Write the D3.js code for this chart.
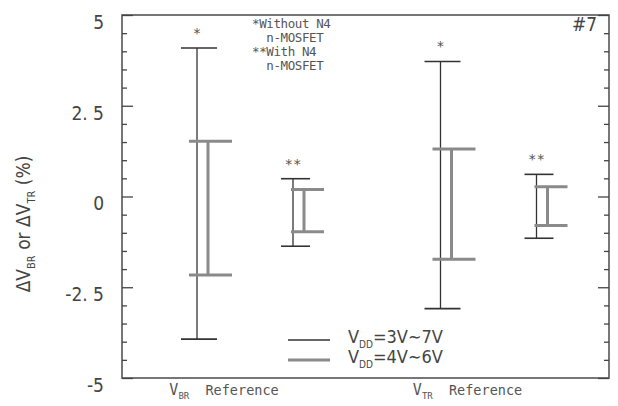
<!DOCTYPE html>
<html>
<head>
<meta charset="utf-8">
<script src="https://cdn.jsdelivr.net/npm/d3@7"></script>
<style>
  body { margin: 0; background: #fff; }
  svg { display: block; }
  .mono { font-family: "DejaVu Sans Mono", monospace; fill: #555; }
  .narrow { font-family: "DejaVu Sans Condensed", "Liberation Sans Narrow", "DejaVu Sans", sans-serif; fill: #444; }
</style>
</head>
<body>
<svg></svg>
<script>
/* data: order is V_BR *, V_BR **, V_TR *, V_TR ** */
var groups = ["BR", "TR"];
var markers = ["*", "**"];
var wideHi = [4.09, 0.49, 3.72, 0.61];     // VDD = 3V ~ 7V
var wideLo = [-3.93, -1.37, -3.09, -1.15];
var narrowHi = [1.52, 0.19, 1.31, 0.27];   // VDD = 4V ~ 6V
var narrowLo = [-2.16, -0.97, -1.73, -0.80];
var majorTicks = [5, 2.5, 0, -2.5, -5];
var tickLabels = ["5", "2. 5", "0", "-2. 5", "-5"];
var legendNotes = ["*Without N4", "  n-MOSFET", "**With N4", "  n-MOSFET"];

/* svg setting */
var svgWidth = 618;
var svgHeight = 406;
var margin = {top: 15, right: 9, bottom: 28, left: 122};
var width = svgWidth - margin.left - margin.right;
var height = svgHeight - margin.top - margin.bottom;

var svg = d3.select("svg")
    .attr("width", svgWidth)
    .attr("height", svgHeight);

var scale = {};
scale.y = d3.scaleLinear().domain([-5, 5]).range([height, 0]);
scale.x0 = d3.scaleBand().domain(groups).range([0, width]);
scale.x1 = d3.scalePoint().domain(markers).range([80, 176]);

var g = svg.append("g").attr("transform", translate(margin.left, margin.top));

/* frame */
g.append("rect")
    .attr("width", width).attr("height", height)
    .attr("fill", "none").attr("stroke", "#555").attr("stroke-width", 1.6);

/* axes: ticks point inward */
var minorTicks = d3.range(-5, 5.01, 0.5).filter(function(v){ return Math.abs(v % 2.5) > 1e-6; });

function drawAxis(axisFn, x, labels){
  var major = g.append("g").attr("transform", translate(x, 0))
      .call(axisFn(scale.y).tickValues(majorTicks).tickSize(-11).tickPadding(18)
        .tickFormat(function(d, i){ return labels ? tickLabels[i] : ""; }));
  var minor = g.append("g").attr("transform", translate(x, 0))
      .call(axisFn(scale.y).tickValues(minorTicks).tickSize(-5).tickFormat(""));
  [major, minor].forEach(function(a){
    a.select(".domain").remove();
    a.selectAll("line").attr("stroke", "#444").attr("stroke-width", 1.3);
  });
  major.selectAll("text")
      .attr("class", "narrow")
      .attr("font-size", 19)
      .attr("dy", "0.7em")
      .style("fill", "#444");
}
drawAxis(d3.axisLeft, 0, true);
drawAxis(d3.axisRight, width, false);

/* error bars */
var bars = [];
groups.forEach(function(grp, gi){
  markers.forEach(function(m, mi){
    var i = gi * 2 + mi;
    var cx = scale.x0(grp) + scale.x1(m);
    bars.push({kind: "wide", m: m, x: cx - 5, hi: wideHi[i], lo: wideLo[i]});
    bars.push({kind: "narrow", m: m, x: cx + 6, hi: narrowHi[i], lo: narrowLo[i]});
  });
});

var caps = {
  wide: {"*": [-16, 20], "**": [-12, 17]},
  narrow: {"*": [-19, 24], "**": [-13, 20]}
};
var styles = {
  wide: {stroke: "#333", w: 1.3},
  narrow: {stroke: "#8a8a8a", w: 3}
};

var bar = g.selectAll(".bar").data(bars).enter().append("g").attr("class", "bar");
bar.append("line")
    .attr("x1", function(d){ return d.x; }).attr("x2", function(d){ return d.x; })
    .attr("y1", function(d){ return scale.y(d.hi); })
    .attr("y2", function(d){ return scale.y(d.lo); })
    .attr("stroke", function(d){ return styles[d.kind].stroke; })
    .attr("stroke-width", function(d){ return styles[d.kind].w; });
["hi", "lo"].forEach(function(k){
  bar.append("line")
      .attr("x1", function(d){ return d.x + caps[d.kind][d.m][0]; })
      .attr("x2", function(d){ return d.x + caps[d.kind][d.m][1]; })
      .attr("y1", function(d){ return scale.y(d[k]); })
      .attr("y2", function(d){ return scale.y(d[k]); })
      .attr("stroke", function(d){ return styles[d.kind].stroke; })
      .attr("stroke-width", function(d){ return d.kind === "wide" ? 1.6 : 3; });
});

/* star marks above the wide bars */
g.selectAll(".star").data(bars.filter(function(d){ return d.kind === "wide"; }))
  .enter().append("text")
    .attr("class", "mono")
    .attr("x", function(d){ return d.x; })
    .attr("y", function(d){ return scale.y(d.hi) - 10; })
    .attr("text-anchor", "middle")
    .attr("font-size", 14)
    .text(function(d){ return d.m; });

/* note legend */
g.selectAll(".note").data(legendNotes).enter().append("text")
    .attr("class", "mono")
    .attr("x", 130)
    .attr("y", function(d, i){ return 13 + i * 14; })
    .attr("font-size", 12.5)
    .attr("letter-spacing", -0.4)
    .attr("xml:space", "preserve")
    .style("white-space", "pre")
    .text(function(d){ return d; });

g.append("text")
    .attr("class", "narrow")
    .attr("x", 450).attr("y", 16)
    .attr("font-size", 19)
    .text("#7");

/* VDD legend */
var vdd = [{kind: "wide", label: "=3V\u223C7V"}, {kind: "narrow", label: "=4V\u223C6V"}];
var leg = g.selectAll(".leg").data(vdd).enter().append("g")
    .attr("transform", function(d, i){ return translate(166, 325 + i * 20); });
leg.append("line")
    .attr("x1", 0).attr("x2", 42)
    .attr("stroke", function(d){ return styles[d.kind].stroke; })
    .attr("stroke-width", function(d){ return d.kind === "wide" ? 1.6 : 3; });
var lt = leg.append("text").attr("class", "narrow").attr("x", 60).attr("y", 3).attr("font-size", 18);
lt.append("tspan").text("V");
lt.append("tspan").attr("font-size", 10).attr("dy", 5).text("DD");
lt.append("tspan").attr("dy", -5).text(function(d){ return d.label; });

/* x labels */
groups.forEach(function(grp){
  var t = g.append("text").attr("class", "mono")
      .attr("x", scale.x0(grp) + 102).attr("y", height + 17)
      .attr("text-anchor", "middle").attr("font-size", 13.5)
      .attr("xml:space", "preserve").style("white-space", "pre");
  t.append("tspan").attr("font-size", 15).text("V");
  t.append("tspan").attr("font-size", 9).attr("dy", 4).text(grp);
  t.append("tspan").attr("dy", -4).text("  Reference");
});

/* y title */
var yt = svg.append("text").attr("class", "narrow")
    .attr("transform", translate(30, 224) + " rotate(-90)")
    .attr("text-anchor", "middle")
    .attr("font-size", 19);
yt.append("tspan").text("\u0394V");
yt.append("tspan").attr("font-size", 11).attr("dy", 5).text("BR");
yt.append("tspan").attr("dy", -5).text(" or \u0394V");
yt.append("tspan").attr("font-size", 11).attr("dy", 5).text("TR");
yt.append("tspan").attr("dy", -5).text(" (%)");

function translate(x, y) {
  return "translate(" + x + "," + y + ")";
}
</script>
</body>
</html>
